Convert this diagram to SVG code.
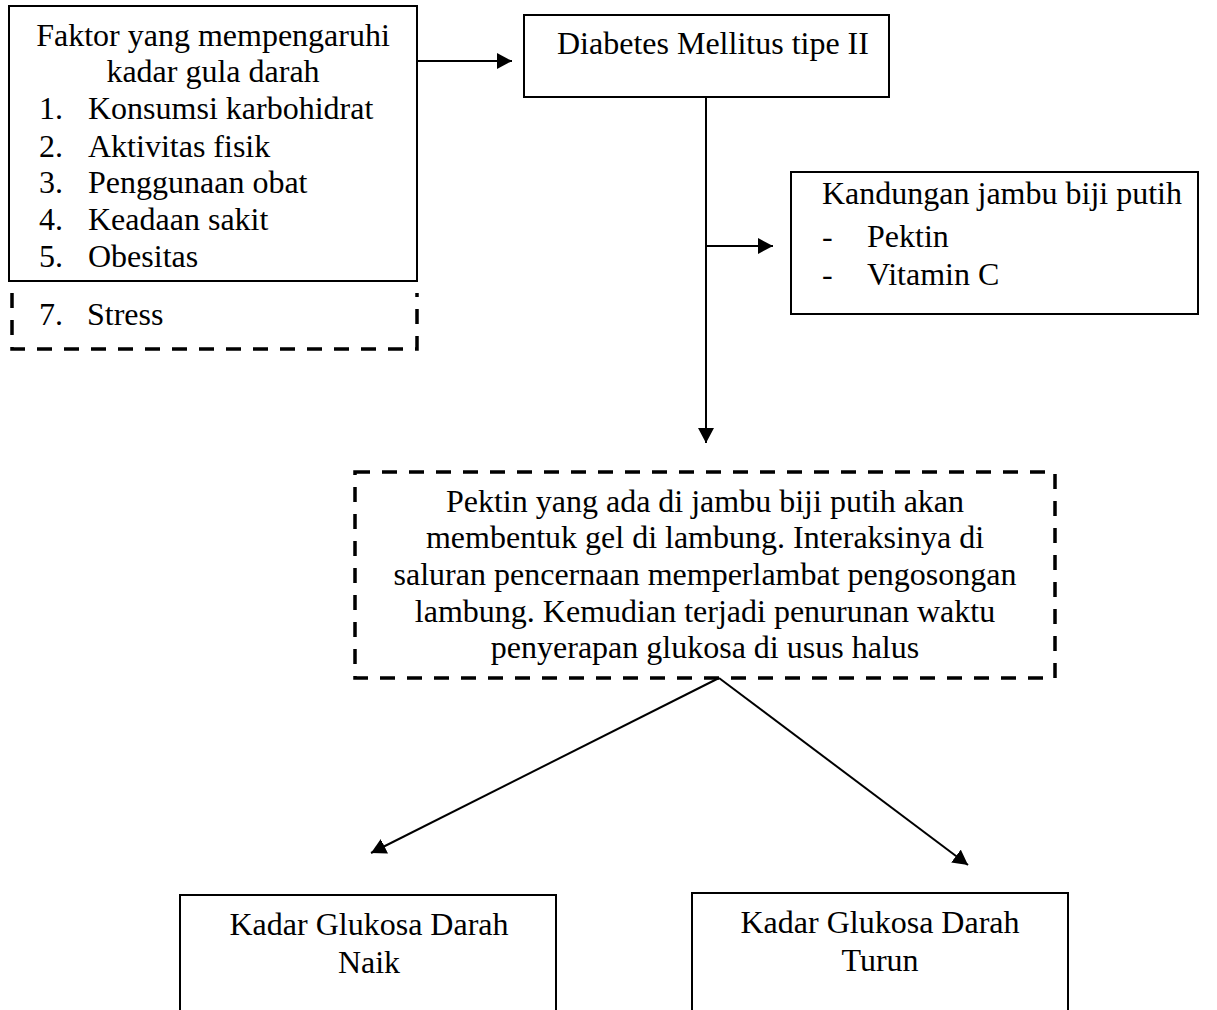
<svg xmlns="http://www.w3.org/2000/svg" width="1217" height="1010" viewBox="0 0 1217 1010">
<style>
  text { font-family: "Liberation Serif", "Times New Roman", serif; font-size: 32px; fill: #000; }
  .c { text-anchor: middle; }
  .box { fill: #fff; stroke: #000; stroke-width: 2; }
  .dash { fill: none; stroke: #000; stroke-width: 3.5; stroke-dasharray: 15 12; }
  .conn { fill: none; stroke: #000; stroke-width: 2; }
</style>
<defs>
  <marker id="arrow" markerUnits="userSpaceOnUse" markerWidth="16" markerHeight="17" refX="15" refY="8" orient="auto">
    <path d="M0,0 L15,8 L0,16 z" fill="#000"/>
  </marker>
</defs>
<rect width="1217" height="1010" fill="#fff"/>

<g id="faktor">
  <rect class="box" x="9" y="6" width="408" height="275"/>
  <text class="c" x="213" y="46">Faktor yang mempengaruhi</text>
  <text class="c" x="213" y="82">kadar gula darah</text>
  <text x="39" y="119">1.</text><text x="88" y="119">Konsumsi karbohidrat</text>
  <text x="39" y="157">2.</text><text x="88" y="157">Aktivitas fisik</text>
  <text x="39" y="193">3.</text><text x="88" y="193">Penggunaan obat</text>
  <text x="39" y="230">4.</text><text x="88" y="230">Keadaan sakit</text>
  <text x="39" y="267">5.</text><text x="88" y="267">Obesitas</text>
</g>

<g id="stress">
  <path class="dash" d="M12,293 V349 H417 V293"/>
  <text x="39" y="325">7.</text><text x="87" y="325">Stress</text>
</g>

<g id="diabetes">
  <rect class="box" x="524" y="15" width="365" height="82"/>
  <text x="557" y="54">Diabetes Mellitus tipe II</text>
</g>

<g id="kandungan">
  <rect class="box" x="791" y="172" width="407" height="142"/>
  <text x="822" y="204">Kandungan jambu biji putih</text>
  <text x="822" y="247">-</text><text x="867" y="247">Pektin</text>
  <text x="822" y="285">-</text><text x="867" y="285">Vitamin C</text>
</g>

<g id="pektin">
  <rect class="dash" x="355" y="472" width="700" height="206"/>
  <text class="c" x="705" y="512">Pektin yang ada di jambu biji putih akan</text>
  <text class="c" x="705" y="548">membentuk gel di lambung. Interaksinya di</text>
  <text class="c" x="705" y="585">saluran pencernaan memperlambat pengosongan</text>
  <text class="c" x="705" y="622">lambung. Kemudian terjadi penurunan waktu</text>
  <text class="c" x="705" y="658">penyerapan glukosa di usus halus</text>
</g>

<g id="naik">
  <rect class="box" x="180" y="895" width="376" height="130"/>
  <text class="c" x="369" y="935">Kadar Glukosa Darah</text>
  <text class="c" x="369" y="973">Naik</text>
</g>

<g id="turun">
  <rect class="box" x="692" y="893" width="376" height="130"/>
  <text class="c" x="880" y="933">Kadar Glukosa Darah</text>
  <text class="c" x="880" y="971">Turun</text>
</g>

<g id="connectors">
  <line class="conn" x1="417" y1="61" x2="512" y2="61" marker-end="url(#arrow)"/>
  <line class="conn" x1="706" y1="97" x2="706" y2="443" marker-end="url(#arrow)"/>
  <line class="conn" x1="706" y1="246" x2="773" y2="246" marker-end="url(#arrow)"/>
  <line class="conn" x1="719" y1="678" x2="371" y2="853" marker-end="url(#arrow)"/>
  <line class="conn" x1="719" y1="678" x2="968" y2="865" marker-end="url(#arrow)"/>
</g>
</svg>
